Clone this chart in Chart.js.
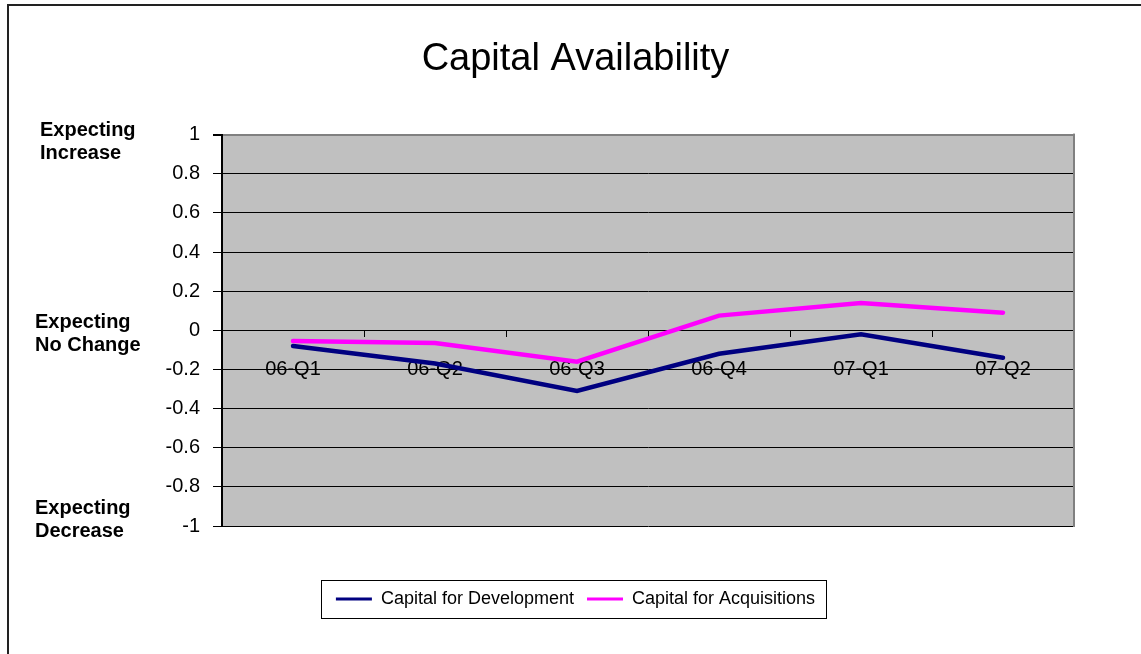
<!DOCTYPE html>
<html>
<head>
<meta charset="utf-8">
<title>Capital Availability</title>
<script src="https://cdn.jsdelivr.net/npm/chart.js@4.4.0/dist/chart.umd.js"></script>
<style>
  html, body { margin: 0; padding: 0; background: #fff; }
  #wrap { position: relative; width: 1141px; height: 654px; overflow: hidden; }
  #frame {
    position: absolute; left: 7px; top: 4px; right: -4px; bottom: -4px;
    border-top: 2px solid #222; border-left: 2px solid #222;
    pointer-events: none;
  }
</style>
</head>
<body>
<div id="wrap">
  <canvas id="capitalChart" width="1141" height="654"></canvas>
  <div id="frame"></div>
</div>
<script>
// quarterly survey results, -1 = expecting decrease, 1 = expecting increase
const quarters = ['06-Q1', '06-Q2', '06-Q3', '06-Q4', '07-Q1', '07-Q2'];
const developmentValues = [-0.08, -0.17, -0.31, -0.12, -0.02, -0.14];
const acquisitionValues = [-0.055, -0.065, -0.16, 0.075, 0.14, 0.09];

// text shown left of the value axis
const sideValues = [1, 0, -1];
const sideLabels = [
    ['Expecting', 'Increase'],
    ['Expecting', 'No Change'],
    ['Expecting', 'Decrease']
];
const sideOffsets = [1, -2, -12];
const sideLeft = [40, 35, 35];

const FONT = '"Liberation Sans", Arial, sans-serif';

const plotBackground = {
    id: 'plotBackground',
    beforeDraw(chart) {
        const { ctx, chartArea: a } = chart;
        ctx.save();
        ctx.fillStyle = '#C0C0C0';
        ctx.fillRect(a.left, a.top, a.right - a.left, a.bottom - a.top);
        ctx.restore();
    },
    afterDatasetsDraw(chart) {
        // grey frame on the right side of the plot
        const { ctx, chartArea: a } = chart;
        ctx.save();
        ctx.fillStyle = '#808080';
        ctx.fillRect(a.right - 1, a.top - 1, 2, a.bottom - a.top + 2);
        ctx.restore();
    }
};

const sideText = {
    id: 'sideText',
    afterDraw(chart) {
        const { ctx } = chart;
        const y = chart.scales.y;
        ctx.save();
        ctx.font = 'bold 20px ' + FONT;
        ctx.fillStyle = '#000';
        ctx.textAlign = 'left';
        ctx.textBaseline = 'alphabetic';
        sideValues.forEach((v, i) => {
            const base = y.getPixelForValue(v) + sideOffsets[i];
            sideLabels[i].forEach((line, j) => {
                ctx.fillText(line, sideLeft[i], base + j * 23);
            });
        });
        ctx.restore();
    }
};

const legendFrame = {
    id: 'legendFrame',
    afterDraw(chart) {
        const boxes = chart.legend && chart.legend.legendHitBoxes;
        if (!boxes || !boxes.length) return;
        const left = Math.min(...boxes.map(b => b.left)) - 15;
        const right = Math.max(...boxes.map(b => b.left + b.width)) + 11;
        const mid = boxes[0].top + boxes[0].height / 2;
        const { ctx } = chart;
        ctx.save();
        ctx.strokeStyle = '#000';
        ctx.lineWidth = 1;
        ctx.strokeRect(Math.round(left) + 0.5, Math.round(mid - 19) + 0.5, Math.round(right - left), 38);
        ctx.restore();
    }
};

const ctx = document.getElementById('capitalChart');

new Chart(ctx, {
    type: 'line',
    data: {
        labels: quarters,
        datasets: [
            {
                label: 'Capital for Development',
                data: developmentValues,
                borderColor: '#000080',
                backgroundColor: '#000080',
                borderWidth: 4.5,
                borderCapStyle: 'round',
                pointRadius: 0,
                tension: 0,
                order: 1
            },
            {
                label: 'Capital for Acquisitions',
                data: acquisitionValues,
                borderColor: '#FF00FF',
                backgroundColor: '#FF00FF',
                borderWidth: 4.5,
                borderCapStyle: 'round',
                pointRadius: 0,
                tension: 0,
                order: 0
            }
        ]
    },
    options: {
        responsive: false,
        animation: false,
        events: [],
        layout: {
            padding: { left: 10, right: 0, top: 0, bottom: 36 }
        },
        plugins: {
            title: {
                display: true,
                text: 'Capital Availability',
                color: '#000',
                font: { family: FONT, size: 38, weight: 'normal' },
                padding: { top: 37, bottom: 52 }
            },
            legend: {
                display: true,
                position: 'bottom',
                labels: {
                    color: '#000',
                    font: { family: FONT, size: 18 },
                    boxWidth: 36,
                    boxHeight: 3,
                    padding: 13,
                    sort: (a, b) => a.datasetIndex - b.datasetIndex,
                    generateLabels(chart) {
                        const items = Chart.defaults.plugins.legend.labels.generateLabels(chart);
                        return items.map(it => Object.assign(it, {
                            fillStyle: it.strokeStyle,
                            lineWidth: 0
                        }));
                    }
                }
            },
            tooltip: { enabled: false }
        },
        scales: {
            x: {
                type: 'category',
                position: { y: 0 },
                offset: true,
                grid: {
                    offset: true,
                    drawOnChartArea: false,
                    drawTicks: true,
                    tickLength: 6,
                    tickColor: '#000'
                },
                border: { display: true, color: '#000', width: 1 },
                ticks: {
                    color: '#000',
                    font: { family: FONT, size: 20 },
                    padding: 21,
                    maxRotation: 0,
                    autoSkip: false
                }
            },
            y: {
                position: 'left',
                min: -1,
                max: 1,
                ticks: {
                    stepSize: 0.2,
                    color: '#000',
                    font: { family: FONT, size: 20 },
                    padding: 13,
                    callback: v => String(+v.toFixed(1))
                },
                grid: {
                    color: ctx => ctx.tick && ctx.tick.value === 1 ? '#808080' : '#000',
                    lineWidth: ctx => ctx.tick && ctx.tick.value === 1 ? 2 : 1,
                    tickColor: '#000',
                    tickLength: 9,
                    drawTicks: true
                },
                border: { display: true, color: '#000', width: 2 },
                afterFit(scale) { scale.width = 212; }
            },
            // empty axes that keep the legend clear of the plot and leave a right margin
            gap: {
                type: 'linear',
                axis: 'x',
                position: 'bottom',
                display: true,
                grid: { display: false },
                border: { display: false },
                ticks: { display: false },
                afterFit(scale) { scale.height = 51; }
            },
            margin: {
                type: 'linear',
                axis: 'y',
                position: 'right',
                display: true,
                grid: { display: false },
                border: { display: false },
                ticks: { display: false },
                afterFit(scale) { scale.width = 67; }
            }
        }
    },
    plugins: [plotBackground, sideText, legendFrame]
});
</script>
</body>
</html>
